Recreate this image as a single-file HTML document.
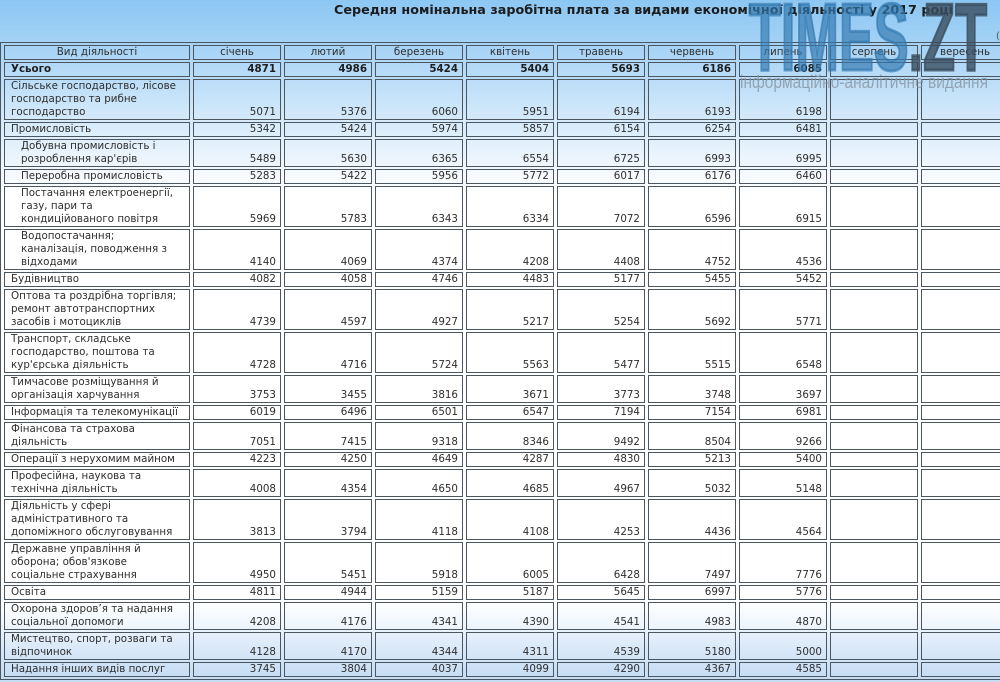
<!DOCTYPE html>
<html>
<head>
<meta charset="utf-8">
<style>
html,body{margin:0;padding:0;}
body{width:1000px;height:682px;overflow:hidden;position:relative;
background:linear-gradient(to bottom,#8cc7f3 0px,#a2d1f5 40px,#bbddf8 80px,#d5eafa 120px,#e6f2fc 150px,#f6fafe 176px,#ffffff 195px,#ffffff 603px,#f1f7fd 622px,#deebf9 643px,#cfe2f6 664px,#c4dbf3 682px);
font-family:"DejaVu Sans","Liberation Sans",sans-serif;}
.wrap{position:absolute;left:0;top:42px;border:1px solid #4c5660;padding:2px 3px;}
.g{display:grid;grid-template-columns:186px repeat(9,88px);column-gap:3px;row-gap:2px;}
.g>div{box-sizing:border-box;border:1px solid #4c5660;font-size:10.3px;line-height:13px;color:#2e2e2e;white-space:nowrap;overflow:hidden;}
.h{text-align:center;}
.t{padding-left:6px;}
.i{padding-left:16px;}
.n{display:flex;align-items:flex-end;justify-content:flex-end;padding-right:4px;}
.b{font-weight:bold;color:#1e1e1e !important;}
svg.ov{position:absolute;left:0;top:0;pointer-events:none;}
</style>
</head>
<body>
<div class="wrap"><div class="g">
<div class="h">Вид діяльності</div><div class="h">січень</div><div class="h">лютий</div><div class="h">березень</div><div class="h">квітень</div><div class="h">травень</div><div class="h">червень</div><div class="h">липень</div><div class="h">серпень</div><div class="h">вересень</div>

<div class="t b">Усього</div><div class="n b">4871</div><div class="n b">4986</div><div class="n b">5424</div><div class="n b">5404</div><div class="n b">5693</div><div class="n b">6186</div><div class="n b">6085</div><div class="n"></div><div class="n"></div>

<div class="t">Сільське господарство, лісове<br>господарство та рибне<br>господарство</div><div class="n">5071</div><div class="n">5376</div><div class="n">6060</div><div class="n">5951</div><div class="n">6194</div><div class="n">6193</div><div class="n">6198</div><div class="n"></div><div class="n"></div>

<div class="t">Промисловість</div><div class="n">5342</div><div class="n">5424</div><div class="n">5974</div><div class="n">5857</div><div class="n">6154</div><div class="n">6254</div><div class="n">6481</div><div class="n"></div><div class="n"></div>

<div class="t i">Добувна промисловість і<br>розроблення кар'єрів</div><div class="n">5489</div><div class="n">5630</div><div class="n">6365</div><div class="n">6554</div><div class="n">6725</div><div class="n">6993</div><div class="n">6995</div><div class="n"></div><div class="n"></div>

<div class="t i">Переробна промисловість</div><div class="n">5283</div><div class="n">5422</div><div class="n">5956</div><div class="n">5772</div><div class="n">6017</div><div class="n">6176</div><div class="n">6460</div><div class="n"></div><div class="n"></div>

<div class="t i">Постачання електроенергії,<br>газу, пари та<br>кондиційованого повітря</div><div class="n">5969</div><div class="n">5783</div><div class="n">6343</div><div class="n">6334</div><div class="n">7072</div><div class="n">6596</div><div class="n">6915</div><div class="n"></div><div class="n"></div>

<div class="t i">Водопостачання;<br>каналізація, поводження з<br>відходами</div><div class="n">4140</div><div class="n">4069</div><div class="n">4374</div><div class="n">4208</div><div class="n">4408</div><div class="n">4752</div><div class="n">4536</div><div class="n"></div><div class="n"></div>

<div class="t">Будівництво</div><div class="n">4082</div><div class="n">4058</div><div class="n">4746</div><div class="n">4483</div><div class="n">5177</div><div class="n">5455</div><div class="n">5452</div><div class="n"></div><div class="n"></div>

<div class="t">Оптова та роздрібна торгівля;<br>ремонт автотранспортних<br>засобів і мотоциклів</div><div class="n">4739</div><div class="n">4597</div><div class="n">4927</div><div class="n">5217</div><div class="n">5254</div><div class="n">5692</div><div class="n">5771</div><div class="n"></div><div class="n"></div>

<div class="t">Транспорт, складське<br>господарство, поштова та<br>кур'єрська діяльність</div><div class="n">4728</div><div class="n">4716</div><div class="n">5724</div><div class="n">5563</div><div class="n">5477</div><div class="n">5515</div><div class="n">6548</div><div class="n"></div><div class="n"></div>

<div class="t">Тимчасове розміщування й<br>організація харчування</div><div class="n">3753</div><div class="n">3455</div><div class="n">3816</div><div class="n">3671</div><div class="n">3773</div><div class="n">3748</div><div class="n">3697</div><div class="n"></div><div class="n"></div>

<div class="t">Інформація та телекомунікації</div><div class="n">6019</div><div class="n">6496</div><div class="n">6501</div><div class="n">6547</div><div class="n">7194</div><div class="n">7154</div><div class="n">6981</div><div class="n"></div><div class="n"></div>

<div class="t">Фінансова та страхова<br>діяльність</div><div class="n">7051</div><div class="n">7415</div><div class="n">9318</div><div class="n">8346</div><div class="n">9492</div><div class="n">8504</div><div class="n">9266</div><div class="n"></div><div class="n"></div>

<div class="t">Операції з нерухомим майном</div><div class="n">4223</div><div class="n">4250</div><div class="n">4649</div><div class="n">4287</div><div class="n">4830</div><div class="n">5213</div><div class="n">5400</div><div class="n"></div><div class="n"></div>

<div class="t">Професійна, наукова та<br>технічна діяльність</div><div class="n">4008</div><div class="n">4354</div><div class="n">4650</div><div class="n">4685</div><div class="n">4967</div><div class="n">5032</div><div class="n">5148</div><div class="n"></div><div class="n"></div>

<div class="t">Діяльність у сфері<br>адміністративного та<br>допоміжного обслуговування</div><div class="n">3813</div><div class="n">3794</div><div class="n">4118</div><div class="n">4108</div><div class="n">4253</div><div class="n">4436</div><div class="n">4564</div><div class="n"></div><div class="n"></div>

<div class="t">Державне управління й<br>оборона; обов'язкове<br>соціальне страхування</div><div class="n">4950</div><div class="n">5451</div><div class="n">5918</div><div class="n">6005</div><div class="n">6428</div><div class="n">7497</div><div class="n">7776</div><div class="n"></div><div class="n"></div>

<div class="t">Освіта</div><div class="n">4811</div><div class="n">4944</div><div class="n">5159</div><div class="n">5187</div><div class="n">5645</div><div class="n">6997</div><div class="n">5776</div><div class="n"></div><div class="n"></div>

<div class="t">Охорона здоров’я та надання<br>соціальної допомоги</div><div class="n">4208</div><div class="n">4176</div><div class="n">4341</div><div class="n">4390</div><div class="n">4541</div><div class="n">4983</div><div class="n">4870</div><div class="n"></div><div class="n"></div>

<div class="t">Мистецтво, спорт, розваги та<br>відпочинок</div><div class="n">4128</div><div class="n">4170</div><div class="n">4344</div><div class="n">4311</div><div class="n">4539</div><div class="n">5180</div><div class="n">5000</div><div class="n"></div><div class="n"></div>

<div class="t">Надання інших видів послуг</div><div class="n">3745</div><div class="n">3804</div><div class="n">4037</div><div class="n">4099</div><div class="n">4290</div><div class="n">4367</div><div class="n">4585</div><div class="n"></div><div class="n"></div>
</div></div>

<svg class="ov" width="1000" height="682" xmlns="http://www.w3.org/2000/svg">
  <text x="334" y="14" font-family="DejaVu Sans, Liberation Sans, sans-serif" font-weight="bold" font-size="12" fill="#1c1c1c" textLength="619" lengthAdjust="spacingAndGlyphs">Середня номінальна заробітна плата за видами економічної діяльності у 2017 році</text>
  <text x="996" y="39" font-family="DejaVu Sans, sans-serif" font-size="10" fill="#555">(грн)</text>
  <text x="749" y="70" font-family="Liberation Sans Narrow, Liberation Sans, sans-serif" font-weight="bold" font-size="96" textLength="238" lengthAdjust="spacingAndGlyphs" fill="#3479b0" fill-opacity="0.68" stroke="#3479b0" stroke-opacity="0.68" stroke-width="3" stroke-linejoin="miter">TIMES<tspan fill="#3a4d5f" stroke="#3a4d5f" fill-opacity="0.8" stroke-opacity="0.8">.ZT</tspan></text>
  <text x="740" y="88" font-family="Liberation Sans Narrow, Liberation Sans, sans-serif" font-size="18" textLength="248" lengthAdjust="spacingAndGlyphs" fill="#8a949e" fill-opacity="0.8">інформаційно-аналітичне видання</text>
</svg>
</body>
</html>
